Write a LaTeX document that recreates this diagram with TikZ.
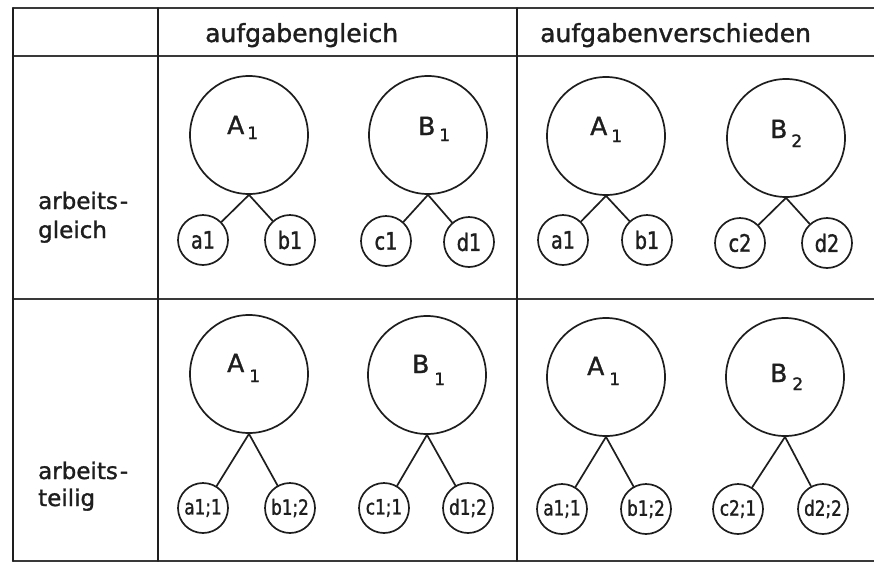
\documentclass[tikz,border=0pt]{standalone}
\usepackage{fontspec}
\setmainfont{DejaVu Sans}[FakeBold=1.3]
\newfontfamily\narrowfont[FakeStretch=0.8,FakeBold=1.3]{DejaVu Sans}
\definecolor{ink}{HTML}{1E1E1E}
% capital with a lowered index: #1 letter, #2 index, #3 gap, #4 drop
\newcommand\capidx[4]{#1\kern#3pt\raisebox{-#4pt}{\fontsize{17}{17}\selectfont #2}}
\begin{document}
\begin{tikzpicture}[x=1pt,y=-1pt,line cap=round,
  colrule/.style={line width=1.5pt,draw=ink},
  rowrule/.style={line width=2.3pt,draw=ink!88},
  big/.style={circle,draw=ink,line width=1.7pt,minimum size=118pt,inner sep=0pt},
  leaf/.style={circle,draw=ink,line width=1.7pt,minimum size=50pt,inner sep=0pt,
    text=ink,font=\narrowfont\fontsize{24}{24}\selectfont},
  leafsm/.style={leaf,font=\narrowfont\fontsize{21}{21}\selectfont},
  edge/.style={line width=1.7pt,draw=ink},
  head/.style={anchor=base west,inner sep=0pt,text=ink,font=\fontsize{25}{25}\selectfont},
  side/.style={anchor=base west,inner sep=0pt,text=ink,align=left,
    font=\fontsize{23}{29}\selectfont},
  biglabel/.style={anchor=base west,inner sep=0pt,text=ink,font=\fontsize{25}{25}\selectfont}]

\useasboundingbox (0,0) rectangle (874,565);
\fill[white] (0,0) rectangle (874,565);

% table frame
\draw[rowrule] (13,8) -- (874,8);
\draw[rowrule] (13,56) -- (874,56);
\draw[rowrule] (13,299) -- (874,299);
\draw[rowrule] (13,561) -- (874,561);
\draw[colrule] (13,8) -- (13,561);
\draw[colrule] (158,8) -- (158,561);
\draw[colrule] (517,8) -- (517,561);

% headings (side labels: base is the last line)
\node[head] (h1) at (205,42) {aufgabengleich};
\node[head] (h2) at (540,42) {aufgabenverschieden};
\node[side] (s1) at (38,238) {arbeits\kern2pt-\\gleich};
\node[side,font=\fontsize{23}{27}\selectfont] (s2) at (38,506) {arbeits\kern2pt-\\teilig};

% row 1, column 1
\node[big] (A11) at (249,135) {};
\node[big] (B11) at (428,135) {};
\node[biglabel] (tA11) at (227,134) {\capidx{A}{1}{3}{5}};
\node[biglabel] (tB11) at (418,135) {\capidx{B}{1}{4}{6}};
\node[leaf] (a11) at (203,240) {a1};
\node[leaf] (b11) at (290,240) {b1};
\node[leaf] (c11) at (386,241) {c1};
\node[leaf] (d11) at (469,242) {d1};
\draw[edge] (A11.south) -- (a11);
\draw[edge] (A11.south) -- (b11);
\draw[edge] (B11.south) -- (c11);
\draw[edge] (B11.south) -- (d11);

% row 1, column 2
\node[big] (A12) at (606,136) {};
\node[big] (B12) at (786,138) {};
\node[biglabel] (tA12) at (590,135) {\capidx{A}{1}{4}{7}};
\node[biglabel] (tB12) at (770,138) {\capidx{B}{2}{4}{9}};
\node[leaf] (a12) at (563,240) {a1};
\node[leaf] (b12) at (647,240) {b1};
\node[leaf] (c12) at (740,243) {c2};
\node[leaf] (d12) at (827,243) {d2};
\draw[edge] (A12.south) -- (a12);
\draw[edge] (A12.south) -- (b12);
\draw[edge] (B12.south) -- (c12);
\draw[edge] (B12.south) -- (d12);

% row 2, column 1
\node[big] (A21) at (249,374) {};
\node[big] (B21) at (427,375) {};
\node[biglabel] (tA21) at (227,372) {\capidx{A}{1}{5}{10}};
\node[biglabel] (tB21) at (412,373) {\capidx{B}{1}{5}{12}};
\node[leafsm] (a21) at (203,508) {a1;1};
\node[leafsm] (b21) at (290,508) {b1;2};
\node[leafsm] (c21) at (384,508) {c1;1};
\node[leafsm] (d21) at (468,508) {d1;2};
\draw[edge] (A21.south) -- (a21);
\draw[edge] (A21.south) -- (b21);
\draw[edge] (B21.south) -- (c21);
\draw[edge] (B21.south) -- (d21);

% row 2, column 2
\node[big] (A22) at (606,377) {};
\node[big] (B22) at (785,377) {};
\node[biglabel] (tA22) at (587,375) {\capidx{A}{1}{5}{10}};
\node[biglabel] (tB22) at (770,382) {\capidx{B}{2}{5}{8}};
\node[leafsm] (a22) at (562,509) {a1;1};
\node[leafsm] (b22) at (646,509) {b1;2};
\node[leafsm] (c22) at (738,509) {c2;1};
\node[leafsm] (d22) at (823,509) {d2;2};
\draw[edge] (A22.south) -- (a22);
\draw[edge] (A22.south) -- (b22);
\draw[edge] (B22.south) -- (c22);
\draw[edge] (B22.south) -- (d22);
\end{tikzpicture}
\end{document}
